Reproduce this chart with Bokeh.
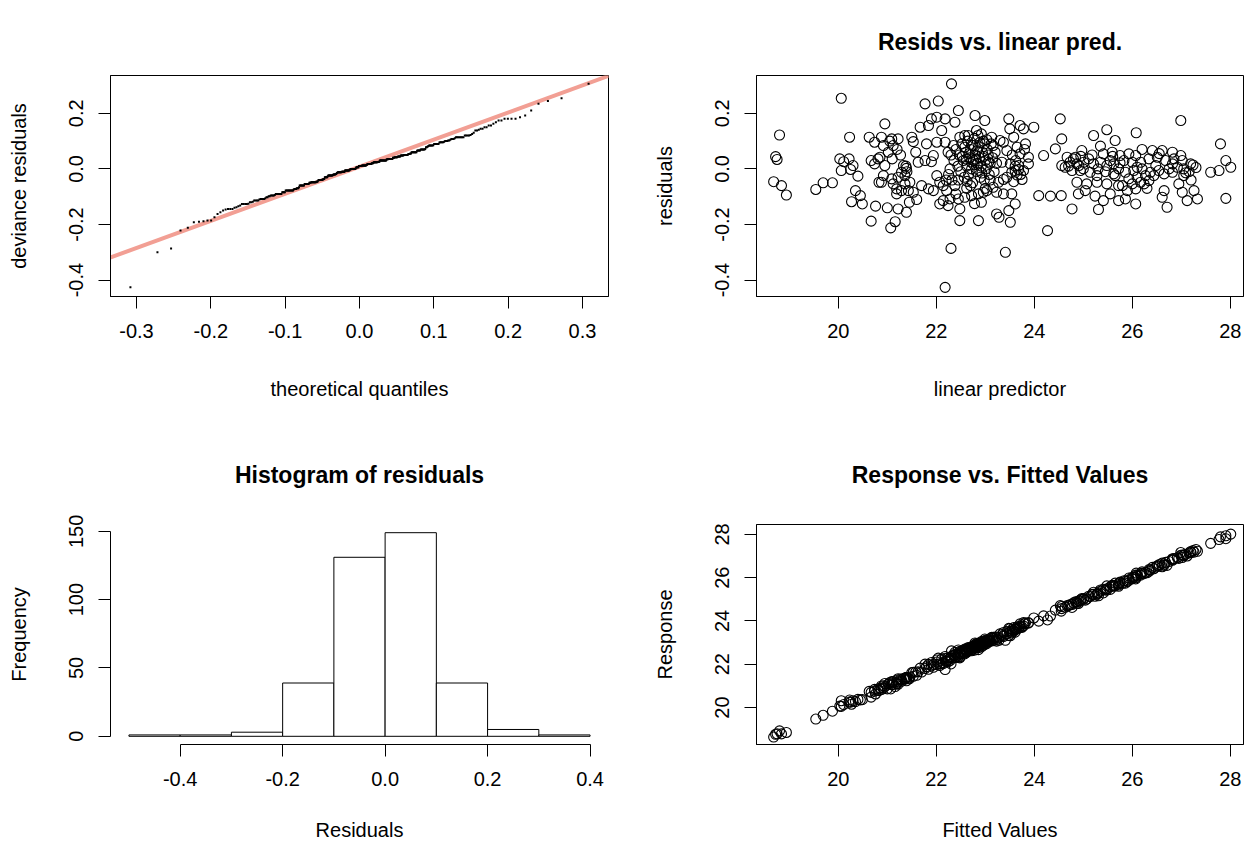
from statistics import NormalDist
from bokeh.plotting import figure
from bokeh.layouts import gridplot
from bokeh.models import Range1d, FixedTicker, NumeralTickFormatter, Slope
from bokeh.embed import file_html
from bokeh.resources import INLINE

# ---------------- data ----------------
lin_pred = [
    20.06, 18.80, 18.72, 18.75, 18.68, 18.84, 18.94, 19.54, 19.69, 19.88,
    20.23, 20.03, 20.11, 20.22, 20.30, 20.25, 20.06, 20.40, 20.35, 20.45,
    20.27, 20.49, 20.63, 20.74, 20.67, 20.74, 20.76, 20.67, 20.83, 20.81,
    20.88, 20.85,
    20.95, 21.09, 21.22, 21.50, 21.53, 20.92, 21.12, 21.02, 21.10, 21.20,
    21.27, 21.05, 21.63, 21.77, 21.90, 21.94, 21.33, 21.39, 21.29, 21.36,
    21.22, 20.95, 20.92, 20.88, 21.09, 21.12, 21.19, 21.29, 21.43, 21.53,
    21.19, 21.36, 21.46, 21.38, 21.40, 21.22, 21.39, 21.16, 21.07, 21.77,
    22.04, 21.90, 22.01, 22.18, 21.67, 21.84, 22.11, 21.80, 22.01, 22.18,
    22.24, 21.84, 21.94, 22.01, 22.07, 22.14, 22.21, 22.28, 22.14, 22.07,
    22.24, 22.18, 22.25, 22.20, 22.28, 21.60, 21.70, 21.58, 21.00, 21.45,
    22.31, 22.45, 22.38, 22.79, 22.99, 22.48, 22.65, 22.82, 22.92, 23.13,
    23.30, 22.35, 22.58, 22.75, 22.99, 23.16,
    22.30, 22.36, 22.40, 22.44, 22.47, 22.50, 22.52, 22.55, 22.57, 22.60,
    22.62, 22.64, 22.66, 22.68, 22.70, 22.72, 22.74, 22.76, 22.78, 22.80,
    22.82, 22.84, 22.86, 22.88, 22.90, 22.92, 22.94, 22.96, 22.98, 23.00,
    23.02, 23.04, 23.06, 23.08, 23.10, 23.12, 23.15, 23.18, 23.20, 23.23,
    22.58, 22.85, 22.70, 23.00, 22.45,
    22.53, 22.67, 22.77, 22.87, 22.97, 23.07, 22.63, 22.83, 22.93, 22.73,
    22.89, 23.03, 22.61, 22.71, 22.81,
    22.32, 22.38,
    22.45, 22.58, 22.72, 22.86, 22.96, 23.03, 23.16, 23.27, 23.23, 22.48,
    22.48, 22.86, 23.23, 23.28, 22.30, 22.92, 22.62, 23.10, 22.40, 22.78,
    23.48, 23.50, 23.71, 23.78, 23.99, 23.37, 23.58, 23.65, 23.82, 23.44,
    23.71, 23.88, 23.34, 23.51, 23.61, 23.68, 23.78, 23.54, 23.65, 23.44,
    23.75, 23.58, 23.37, 23.88, 23.61, 23.68, 24.53, 24.56, 24.43, 24.19,
    24.56, 23.37, 23.54, 23.61, 23.48, 23.51, 23.41, 24.09, 24.33, 24.55,
    24.27, 23.62, 23.72, 23.55, 23.80,
    24.77, 25.21, 25.48, 25.65, 25.35, 25.41, 25.59, 25.75, 24.97, 24.84,
    24.67, 24.73, 24.87, 25.01, 25.11, 25.21, 25.35, 25.48, 25.62, 25.72,
    24.63, 24.77, 24.94, 25.14, 25.28, 25.62, 24.87, 25.07, 25.28, 25.48,
    25.72, 24.90, 25.04, 25.24, 25.41, 25.31, 25.72, 25.55, 24.80, 24.91,
    25.65, 25.75, 24.70, 25.00, 25.18, 25.45, 25.55, 24.95, 25.30, 25.60,
    26.99, 26.08, 27.80, 27.91, 28.01, 27.77, 27.60, 27.91, 26.20, 26.41,
    26.61, 26.82, 26.99, 26.07, 25.93, 25.83, 26.00, 26.17, 26.34, 26.51,
    26.68, 26.85, 27.02, 27.19, 25.86, 26.03, 26.20, 26.37, 26.54, 26.75,
    26.92, 27.09, 27.24, 25.93, 26.10, 26.27, 26.44, 26.65, 26.82, 27.05,
    25.80, 26.00, 26.17, 26.34, 26.07, 25.90, 26.24, 26.65, 26.61, 26.71,
    27.02, 27.26, 27.12, 27.33, 26.95, 26.07, 25.86, 26.48, 26.82, 27.05,
    26.10, 27.16, 27.30, 27.20, 26.55, 26.30,
]
resid = [
    0.254, 0.122, 0.044, 0.034, -0.046, -0.060, -0.094, -0.074, -0.050, -0.050,
    0.114, 0.036, 0.026, 0.036, 0.012, -0.002, -0.006, -0.026, -0.078, -0.096,
    -0.118, -0.126, 0.114, 0.096, 0.030, 0.018, -0.134, -0.188, -0.048, 0.036,
    0.114, 0.042,
    0.162, 0.108, 0.108, 0.114, 0.098, 0.084, 0.084, 0.060, 0.036, 0.070,
    0.050, 0.100, 0.024, 0.030, 0.026, 0.048, 0.012, 0.002, -0.012, -0.024,
    -0.030, 0.012, -0.024, -0.048, -0.036, -0.054, -0.072, -0.078, -0.078, -0.084,
    -0.090, -0.054, -0.048, 0.010, -0.010, -0.144, -0.156, -0.190, -0.212, 0.234,
    0.244, 0.180, 0.186, 0.180, 0.150, 0.156, 0.138, 0.090, 0.096, 0.096,
    0.060, -0.072, -0.078, -0.024, -0.048, -0.060, -0.078, -0.108, -0.114, -0.126,
    -0.132, -0.426, -0.020, -0.040, 0.000, -0.110, -0.060, 0.060, -0.140, -0.120,
    0.306, 0.210, 0.168, 0.192, 0.174, 0.114, 0.120, 0.138, 0.126, 0.114,
    0.102, 0.084, 0.078, 0.084, 0.090, 0.084,
    0.05, 0.03, 0.07, 0.01, 0.05, -0.01, 0.09, 0.03, -0.03, 0.06,
    0.01, 0.10, -0.02, 0.04, 0.07, 0.00, -0.05, 0.03, 0.11, 0.05,
    -0.01, 0.02, 0.08, 0.04, -0.03, 0.01, 0.06, 0.10, -0.04, 0.03,
    0.00, 0.07, 0.05, -0.02, 0.02, 0.09, 0.04, -0.01, 0.06, 0.02,
    0.12, 0.12, -0.06, -0.07, -0.04,
    0.045, 0.055, 0.015, -0.005, 0.045, 0.025, -0.045, 0.065, -0.015, 0.085,
    0.095, 0.105, 0.035, 0.025, 0.035,
    -0.04, -0.06,
    -0.108, -0.102, -0.096, -0.090, -0.084, -0.078, -0.066, -0.048, -0.084, -0.144,
    -0.186, -0.186, -0.162, -0.174, -0.286, -0.120, -0.070, -0.040, -0.090, -0.125,
    0.180, 0.144, 0.156, 0.144, 0.150, 0.096, 0.114, 0.078, 0.090, 0.066,
    0.054, 0.042, 0.024, 0.018, 0.010, -0.002, -0.006, -0.012, -0.022, -0.030,
    -0.038, -0.046, -0.038, 0.018, -0.006, 0.012, 0.180, 0.108, 0.072, 0.048,
    0.012, -0.090, -0.090, -0.126, -0.150, -0.192, -0.300, -0.096, -0.098, -0.096,
    -0.222, 0.030, -0.020, 0.050, 0.070,
    -0.144, 0.120, 0.141, 0.102, 0.082, 0.054, 0.060, 0.048, 0.066, 0.042,
    0.042, 0.024, 0.018, 0.024, 0.036, 0.018, 0.024, 0.012, 0.018, 0.000,
    0.006, -0.006, -0.006, -0.012, -0.024, -0.018, -0.048, -0.054, -0.048, -0.054,
    -0.060, -0.090, -0.078, -0.098, -0.114, -0.146, -0.114, -0.090, 0.036, 0.012,
    -0.024, 0.022, 0.010, 0.000, 0.050, -0.010, 0.030, 0.045, 0.000, 0.045,
    0.174, 0.130, 0.090, 0.030, 0.006, -0.006, -0.012, -0.106, 0.070, 0.066,
    0.066, 0.060, 0.048, 0.048, 0.054, 0.030, 0.024, 0.024, 0.036, 0.042,
    0.030, 0.036, 0.030, 0.018, -0.012, -0.006, 0.000, -0.012, -0.006, 0.000,
    0.006, -0.014, 0.014, -0.036, -0.030, -0.024, -0.024, -0.018, -0.012, -0.024,
    -0.060, -0.054, -0.048, -0.042, -0.072, -0.078, -0.054, -0.078, -0.102, -0.138,
    -0.084, -0.078, -0.114, -0.108, -0.054, -0.126, -0.108, 0.012, 0.018, 0.000,
    0.006, -0.010, 0.005, -0.040, 0.055, -0.070,
]
response = [lp + r for lp, r in zip(lin_pred, resid)]

hist_breaks = [-0.5, -0.4, -0.3, -0.2, -0.1, 0.0, 0.1, 0.2, 0.3, 0.4]
hist_counts = [1, 1, 3, 39, 131, 149, 39, 5, 1]

resid_scale = 0.103          # scale of the theoretical quantiles
qq_slope, qq_intercept = 0.975, 0.008

qq_x_ticks = [-0.3, -0.2, -0.1, 0.0, 0.1, 0.2, 0.3]
resid_ticks = [-0.4, -0.2, 0.0, 0.2]
pred_ticks = [20, 22, 24, 26, 28]
hist_x_ticks = [-0.4, -0.2, 0.0, 0.2, 0.4]
freq_ticks = [0, 50, 100, 150]

n = len(resid)
qq_sample = sorted(resid)
qq_theory = [NormalDist(0, resid_scale).inv_cdf((i + 0.5) / n) for i in range(n)]

# ---------------- styling helpers ----------------
FONT = "Liberation Sans"
FS = "20px"


def make_fig(w, h, xr, yr, left, right, top, bottom, title=None, box=True,
             label_standoff=37):
    p = figure(width=w, height=h, x_range=Range1d(*xr), y_range=Range1d(*yr),
               output_backend="svg", toolbar_location=None,
               min_border_left=left, min_border_right=right,
               min_border_top=top, min_border_bottom=bottom)
    p.grid.visible = False
    p.background_fill_color = "white"
    p.border_fill_color = "white"
    p.outline_line_color = "black" if box else None
    p.outline_line_width = 1
    if title:
        p.title.text = title
        p.title.text_font = FONT
        p.title.text_font_size = "23px"
        p.title.text_font_style = "bold"
        p.title.align = "center"
        p.title.text_color = "black"
    for ax in (p.xaxis[0], p.yaxis[0]):
        ax.axis_line_color = "black"
        ax.major_tick_line_color = "black"
        ax.major_tick_out = 12
        ax.major_tick_in = 0
        ax.minor_tick_line_color = None
        ax.major_label_text_font = FONT
        ax.major_label_text_font_size = FS
        ax.major_label_text_color = "black"
        ax.major_label_standoff = 15
        ax.axis_label_text_font = FONT
        ax.axis_label_text_font_size = FS
        ax.axis_label_text_font_style = "normal"
        ax.axis_label_text_color = "black"
        ax.axis_label_standoff = 37
    p.xaxis[0].axis_label_standoff = label_standoff
    p.yaxis[0].major_label_orientation = "vertical"
    return p


TOP_H, BOT_H = 410, 435

# ---------------- panel 1: QQ plot ----------------
p1 = make_fig(628, TOP_H, (-0.335, 0.335), (-0.459, 0.336), 109, 20, 75, TOP_H - 296)
p1.xaxis.ticker = FixedTicker(ticks=qq_x_ticks)
p1.xaxis.formatter = NumeralTickFormatter(format="0.0")
p1.yaxis.ticker = FixedTicker(ticks=resid_ticks)
p1.yaxis.formatter = NumeralTickFormatter(format="0.0")
p1.xaxis.axis_label = "theoretical quantiles"
p1.yaxis.axis_label = "deviance residuals"
p1.add_layout(Slope(gradient=qq_slope, y_intercept=qq_intercept,
                    line_color="#F29F94", line_width=4, level="underlay"))
p1.scatter(qq_theory, qq_sample, marker="square", size=2,
           fill_color="black", line_color=None)

# ---------------- panel 2: resid vs linear predictor ----------------
p2 = make_fig(616, TOP_H, (18.33, 28.27), (-0.459, 0.336), 128, 1, 75, TOP_H - 296,
              title="Resids vs. linear pred.")
p2.title.standoff = 42
p2.xaxis.ticker = FixedTicker(ticks=pred_ticks)
p2.yaxis.ticker = FixedTicker(ticks=resid_ticks)
p2.yaxis.formatter = NumeralTickFormatter(format="0.0")
p2.xaxis.axis_label = "linear predictor"
p2.yaxis.axis_label = "residuals"
p2.scatter(lin_pred, resid, marker="circle", size=10, fill_color=None,
           line_color="black", line_width=1.1)

# ---------------- panel 3: histogram ----------------
bt = 524 - TOP_H
bb = BOT_H - bt - 220
p3 = make_fig(628, BOT_H, (-0.536, 0.436), (-6.0, 155.0), 110, 20, bt, bb,
              title="Histogram of residuals", box=False, label_standoff=30)
p3.title.standoff = 74
p3.xaxis.ticker = FixedTicker(ticks=hist_x_ticks)
p3.xaxis.formatter = NumeralTickFormatter(format="0.0")
p3.xaxis.bounds = (hist_x_ticks[0], hist_x_ticks[-1])
p3.yaxis.ticker = FixedTicker(ticks=freq_ticks)
p3.yaxis.bounds = (freq_ticks[0], freq_ticks[-1])
p3.xaxis.axis_label = "Residuals"
p3.yaxis.axis_label = "Frequency"
p3.quad(left=hist_breaks[:-1], right=hist_breaks[1:], bottom=0, top=hist_counts,
        fill_color="white", line_color="black", line_width=1)

# ---------------- panel 4: response vs fitted ----------------
p4 = make_fig(616, BOT_H, (18.33, 28.27), (18.29, 28.46), 128, 1, bt, bb,
              title="Response vs. Fitted Values", label_standoff=30)
p4.title.standoff = 74
p4.xaxis.ticker = FixedTicker(ticks=pred_ticks)
p4.yaxis.ticker = FixedTicker(ticks=pred_ticks)
p4.xaxis.axis_label = "Fitted Values"
p4.yaxis.axis_label = "Response"
p4.scatter(lin_pred, response, marker="circle", size=10, fill_color=None,
           line_color="black", line_width=1.1)

layout = gridplot([[p1, p2], [p3, p4]], toolbar_location=None)

open("out.html", "w").write(file_html(layout, INLINE))
